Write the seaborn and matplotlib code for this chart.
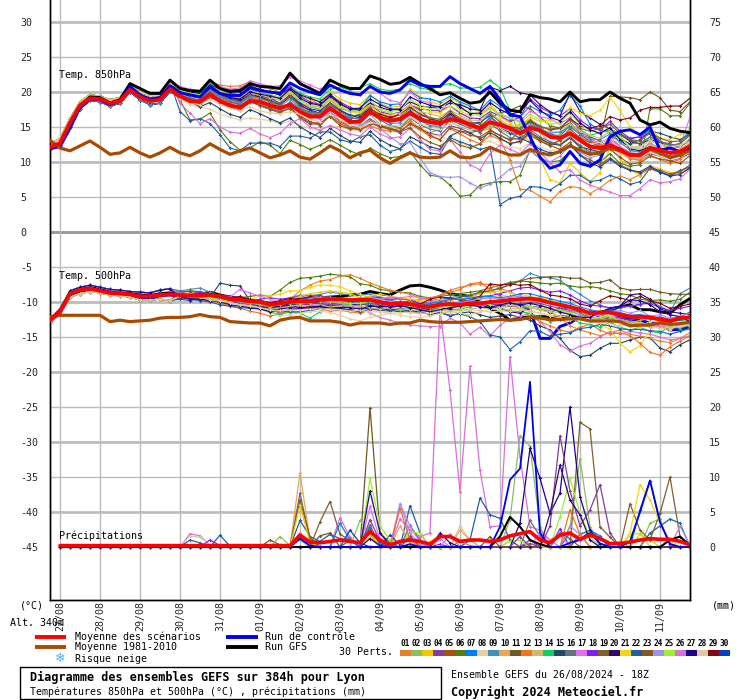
import numpy as np
import matplotlib
matplotlib.use("Agg")
import matplotlib.pyplot as plt
from matplotlib.lines import Line2D
from matplotlib.patches import Rectangle
import seaborn as sns

# ---------- values (one value every 6 h) ----------
DATES = ["27/08","28/08","29/08","30/08","31/08","01/09","02/09","03/09",
         "04/09","05/09","06/09","07/09","08/09","09/09","10/09","11/09"]
LEFT_TICKS = [30,25,20,15,10,5,0,-5,-10,-15,-20,-25,-30,-35,-40,-45]
RIGHT_TICKS = [75,70,65,60,55,50,45,40,35,30,25,20,15,10,5,0]
PERT_COLORS = ["#e8802a","#88c060","#f0c800","#8040a0","#a85010","#508010","#0080f0","#e8d0a0",
               "#4090b8","#e8a858","#705820","#f87020","#d0b870","#10d060","#204868","#687078",
               "#e070f0","#8020f0","#806030","#300870","#f0d810","#2060a0","#885820","#a090f0",
               "#a0f030","#d870d8","#200090","#e0c8a0","#800810","#0840c0"]

MEAN_850 = [12.1,12.7,15.6,18.1,19.1,19,18.4,18.7,20.3,19.3,18.7,18.9,20.4,19.4,18.7,18.6,19.7,18.7,18.1,17.8,
            18.7,18.6,18.1,17.7,18.2,17.2,16.5,16.5,17.7,16.7,15.7,15.8,17.2,16.3,15.9,16.1,17,16.1,15.7,15.5,
            16.1,15.9,15.3,14.8,15.7,15.3,14.8,14.1,14.9,14.5,13.6,13.4,14.1,13.1,12.2,12,12.4,11.8,11,11,
            12,11.7,11.3,11.5,12.3]
CLIM_850 = [13.1,12,11.6,12.3,13,12.1,11.1,11.3,12.1,11.3,10.7,11.3,12.1,11.3,10.9,11.6,12.6,11.8,11.1,11.6,
            12,11.3,10.6,11,11.6,10.7,10.4,11.3,12.3,11.6,10.6,11.3,11.7,10.6,9.8,10.6,11.3,10.7,10.6,10.7,
            11.6,10.7,10.6,11,12.1,11.5,11,11,11.8,11.3,11,11.5,12.3,11.7,11.1,11.3,12,11.6,11,11,
            11.8,11.3,10.6,11,11.6]
GFS_850 = [12.1,12.4,15.2,18,19.3,19.2,18.4,18.9,21.2,20.5,19.8,19.8,21.7,20.5,20.2,20.1,21.7,20.5,20.1,20.2,
           21.2,20.8,20.7,20.5,22.7,21.2,20.5,19.8,21.7,21,20.5,20.5,22.3,21.8,21.1,21.3,22.1,21.2,20.5,19.6,
           19.9,19.1,18.4,18.6,20,18.4,17.4,17.2,19.6,19.2,19,18.6,20,18.6,18.9,18.9,20,19.1,18.4,16,
           15.3,15.7,14.8,14.4,14.2]
CTRL_850 = [11.9,12.2,14.8,17.8,19,18.9,18.2,18.7,20.8,19.6,19,19.2,20.9,19.9,19.6,19.3,20.8,19.8,19.5,19.5,
            20.6,20.2,20,19.8,21.3,20.5,20,19.6,21,20.3,19.8,19.6,20.8,20,19.8,20.3,21.7,21,20.8,20.8,
            22.2,21.2,20.5,19.8,20.8,18.9,16.7,16.5,13.6,10.7,9.1,9.6,11.5,9.8,9.4,10.3,13.6,14.4,14.6,13.9,
            15,11.7,12,11.5,12]
EARLY_850_HI = [12.6,13.3,16.2,18.6,19.6,19.4,18.9,19.2,21,20,19.5,19.5,21.4]
EARLY_850_LO = [11.8,12.3,15,17.6,18.8,18.6,18,18.4,20,18.9,18.2,18.4,20.1]

# members: i = 13..64
T850 = {
 1: [20.5,20.1,20, 21.5,21,20.8,20.9, 21.5,20.7,20.5,20, 20.8,19.5,19,18.2, 19.2,18.2,17.6,17.5, 18.4,17,16,16, 17.3,16,15.2,15.4, 16.8,15.8,15,14.4, 14.8,13.2,10.3,6.1, 6,5.1,4.3,5.8, 6.5,6.3,5.5,6.3, 7.4,8,7.5,8.2, 9,8.6,8.1,8.4, 9],
 2: [19.2,18.6,18.5, 19.6,18.8,18,17.7, 18.9,18.5,18,17.6, 18.4,17,16.2,16.6, 17.8,16.6,15.6,15.5, 16.8,15.4,14.6,14.8, 16,14.8,14.2,14.6, 15.8,15,14.6,14.3, 15.2,14.6,14,15.5, 16,14.2,12.8,12.4, 13.5,12,11.5,11.6, 12.8,11.2,10.6,10.3, 11.5,11,10.6,10.9, 12.6],
 3: [20,19.6,19.4, 20.9,20,19.5,19.6, 20.9,20.3,20,19.8, 20.6,19.5,19,18.6, 20,19,18.4,18.2, 19.6,18.4,17.8,18, 20.5,19.3,18.6,18.2, 19.2,18.4,17.6,17.2, 18.3,16.6,15.5,14, 13,10.5,7.5,7, 9.8,8.5,7.2,8.5, 12,10.5,9,8, 9.5,9,8.5,8.6, 9.2],
 4: [19.7,19,18.9, 20,19.2,18.5,18.3, 19.2,18.7,18.1,17.5, 17.9,16.3,15.4,15.5, 16.9,15.8,15,15.1, 16.2,15.2,14.6,14.2, 15.6,14.5,14.1,13.8, 15.2,14.8,14.2,14.5, 15.7,14.9,14.2,14, 15.3,14.8,14,13.7, 15.2,13.9,13,12.6, 13.6,12.2,11,10.6, 11.2,10.8,10.1,10.5, 11.2],
 6: [18.9,16,16.1, 17,14.6,12.9,11.7, 12,12.9,12.4,11.2, 13.1,12.5,11.8,12.4, 13.2,12.4,11.6,11, 12,11.2,10.6,10.8, 11.5,9.6,8.1,7.9, 6.7,5.1,5.3,6.7, 7,7.2,7.2,8.1, 11.7,10.5,10,10.2, 11.5,10,9.5,10, 11.2,9.8,9.4,9.6, 17.6,17.6,16.6,16.6, 18.4],
 7: [20.2,19.8,19.5, 20.8,19.9,19.4,19.4, 20.4,19.8,19.6,19, 20.2,18.4,17.9,17.5, 19,17.7,17.2,17.6, 19.5,18.6,18.2,18.3, 20.1,19.2,19,18.6, 19.4,18.6,18,17.4, 18.9,18,17,16.4, 18,17.2,16.7,17.4, 19.5,18,15.4,14.6, 14.2,14,13.3,13.6, 14.6,13,12.2,12.7, 14],
 8: [19,18.2,17.8, 17.6,16.8,16.4,16, 16.3,16.1,15.9,15.5, 15.8,15.2,14.8,14.4, 15.2,15,14.6,14.4, 15.1,14.8,14.4,14.6, 15.3,14.4,13.9,13.7, 13.2,12.8,12.2,12.6, 13,12.3,12.2,11.9, 12.7,12.2,11.6,11.8, 12.5,11.5,11,11.4, 12,11.2,10.5,10.6, 11.4,10.8,10,10.4, 11],
 10: [20.4,19.9,19.5, 21,20.1,19.4,19.2, 20,19.4,19,18.8, 19.9,18.5,17.9,17.6, 18.9,17.5,16.6,16.4, 17.6,16.8,16.4,16.2, 17.5,16.6,16.4,16, 16.9,16.4,15.8,15.3, 16.2,15.5,14.6,14, 15,14.3,13.8,13.4, 14.5,13.2,12.4,11.8, 12.6,11.4,10.4,10.6, 12.2,11.8,11.4,11.6, 13],
 11: [19.8,19.4,19.2, 20.4,19.5,19,18.7, 19.5,19.3,18.6,18.2, 19.6,18.2,17.3,16.6, 17.9,16.8,16.2,16.3, 18,17.2,16.2,16.8, 18.2,17.4,16.2,15.4, 16.4,15.8,15.6,15, 16.3,17,17.4,18, 17.6,16.4,15.2,14.8, 15.6,14.2,13.6,13, 19.4,19.3,19.2,18.9, 20,19.2,17.4,17.2, 18.6],
 12: [19.4,19,18.8, 20,19,18.4,18.6, 19.3,18.8,18.3,17.6, 18.3,17.4,16.7,16.2, 17.3,15.9,15.2,14.6, 15.2,14.6,14.4,14.8, 15.8,14.7,13.6,13.2, 14.8,14,13.2,12.6, 13.8,13.2,12.7,12.8, 14,13.2,12.6,13, 14.2,13.6,12.9,12.4, 13,11.6,10.5,10.2, 11,10.4,9.8,10.4, 12],
 14: [20.6,20.2,20, 21.2,20.5,20.3,20.4, 21,20.2,19.9,19.8, 20.9,19.8,19.3,19, 20.4,20.7,20.2,20.6, 21.2,20.4,20.2,20.4, 21.2,20.6,20.3,20.9, 21.2,20.6,20.5,20.7, 21.7,20.6,17.4,13.6, 15.2,14.6,13.6,13.9, 15.4,14.6,13.8,14.2, 14.6,13.4,12.6,12.7, 13.6,12.8,12.4,12.4, 14.8],
 15: [19.3,18.6,17.9, 18.5,17.6,16.8,16.4, 17.5,16.9,16.2,15.6, 16.3,15,14.2,13.5, 14.8,13.8,13,12.8, 14.4,13.2,12.4,11.9, 13.6,12.9,12.2,11.8, 13.7,14.4,14.2,13.3, 14.2,13.4,12.6,13, 14.2,13.4,12.6,12.4, 13.4,12.2,11.8,11.4, 13.6,13.2,12.6,13.2, 14.4,14.1,13.6,13.2, 14],
 17: [20.8,20.4,20.2, 21.4,20.8,20.4,20.6, 21.6,21.2,20.8,20.9, 22.1,21.6,21,20.4, 20.9,20.2,20,19.6, 20.8,19.8,18.8,18.5, 20,18.8,18.4,17.2, 18.6,17.8,17,16.8, 17.8,16.8,16.2,15.8, 17.3,16.5,16.2,15.4, 16.4,14.6,13.2,12.8, 13.2,12.2,11.4,11.5, 12.6,12,11.8,12.3, 16.4],
 18: [20.3,19.9,19.7, 21,20.3,19.8,19.6, 20.7,20.4,19.9,19.7, 20.7,19.4,18.6,18.2, 19.6,18.6,17.8,17.4, 18,17.2,16.8,17.1, 18.2,17.6,17.4,17.3, 18,17,16.3,16.2, 17.2,16.6,15.8,16.4, 19,17.8,17.1,16.6, 17.6,16,15,14.6, 15.8,14.4,13.4,13.6, 14,12.9,12.6,12.2, 13.2],
 20: [20.4,20,19.8, 21,20.4,20,20, 20.8,20.4,20,19.6, 20.5,19.6,19.1,18.6, 19.7,18.4,17.5,17.4, 18.4,17.8,17.4,17.6, 18.6,18,17.8,17.9, 18.4,18.2,17.6,17.4, 20.7,20.2,20.8,19.9, 19.6,18.2,17.2,16.6, 19.8,17.2,16.3,15.4, 14.8,13.9,13,12.6, 13.2,12.8,12,12.2, 13.1],
 21: [20.2,19.8,19.6, 20.6,20,19.4,19.2, 20.2,19.8,19.4,19, 20,18.9,18,17.8, 19,17.8,17.2,16.9, 18,17,16.6,17, 18.2,17.8,17.2,17, 18,17.3,16.6,16.8, 18,16.4,15.6,15.2, 16.4,15.8,16,15.5, 17.8,17,16.6,17.4, 19.2,17.4,15,14, 14.8,13.4,13.2,14, 14.5],
 22: [17.2,15.9,16.2, 15.5,13.9,12,11.6, 12.7,12.7,12.7,12.2, 13.7,13.7,13.4,14.3, 14.3,13.2,12.8,13.6, 13.9,12.4,11.5,11.9, 13,12.1,11.3,11.1, 13.5,12.9,12.4,11.8, 12.2,3.9,4.8,5.1, 6.5,6.4,6,6.9, 8.1,8.1,7.2,7.4, 8.1,7.6,6.8,7.2, 9.1,8.5,8,8.8, 9.3],
 24: [19.6,19.2,18.6, 19.8,19.2,18.8,18.4, 19,18.4,17.9,17.4, 18,17,16.5,16.2, 17,16.4,15.6,15.2, 16,14.8,13.6,12.6, 12.8,10.6,8.5,7.9, 7.8,7.9,7,6.3, 6.8,7.8,9,9.4, 11.6,10.5,10,10.8, 12.4,11.4,10.6,11, 12.6,11.8,11.4,11.6, 12.8,11.8,11.2,11.6, 12.4],
 26: [18.4,17,15.5, 16.2,15,14.3,14.1, 14.8,14,13.5,14.1, 15.5,16.2,15,14.6, 15.2,14.6,14,13.7, 15,14,13.4,13.6, 14.8,13.2,11.8,11.6, 13.2,11.4,9.6,8.9, 11.2,12.4,11.8,11.2, 12.6,11.4,9.9,8.6, 8.9,7.4,6.7,6.2, 5.7,5.2,5.2,6.2, 7.5,7,7.2,7.6, 9],
 29: [19.9,19.4,19.2, 20.6,19.7,19,18.8, 19.7,19.3,18.8,18.2, 19.3,18.1,17.4,17, 18.2,17.3,16.7,16.6, 17.6,16.8,16.4,16.8, 17.9,16.8,16.2,15.8, 17,16,15.4,15, 15.8,15,14.8,14.5, 15.8,15,14.6,14.8, 16.2,15.2,14.8,15.2, 16.5,16,16.3,17.4, 17.8,17.8,18,18, 19.1],
 5: [19.4,18.7,18.3, 19.2,18.6,18.2,17.8, 18.7,18,17.5,17, 17.8,16.4,15.6,15.6, 16.5,15.2,14.7,14.9, 15.8,15,14.7,14.4, 15.4,14.9,13.8,13.2, 14.9,14.4,13.8,13.6, 14.5,13.8,13.2,13.4, 14.4,13,12.4,11.8, 12.8,11,10.3,9.6, 10.6,9.6,8.9,8.4, 9.2,8.8,8.3,8.6, 9.6],
 30: [20,19.5,19.3, 20.6,19.8,19.2,18.9, 20.1,19.5,19.1,18.4, 19.6,18.4,17.6,17.3, 18.5,17.4,16.7,16.3, 17.4,16.3,15.8,16, 17.3,16.4,15.7,15.3, 16.8,15.8,15.5,15.7, 16.6,15.2,14.2,13.4, 12.8,11.8,11.3,11.5, 12.4,11,9.9,9.3, 10.4,9.4,8.8,8.6, 9.4,8.6,8,8.2, 9.2],
 13: [20.1,19.7,19.5, 20.7,19.9,19.5,19.1, 19.9,19.6,19.2,18.9, 19.8,18.8,18.1,17.9, 19.1,18,17.3,17.1, 18.2,17.4,17,16.9, 18.1,17.2,16.9,16.5, 17.4,16.7,16,15.9, 17,16,15.2,15, 16.1,15.2,14.4,14.2, 15.5,14.4,13.8,13.4, 14.4,13,12.1,12, 13.2,12.4,12,12.2, 13.4],
 16: [19.6,19.1,18.9, 20.2,19.3,18.7,18.1, 18.9,18.1,17.6,17.2, 18.6,17.6,16.9,16.7, 17.6,16.6,15.9,15.8, 17,16,15.2,14.9, 16.3,15.3,14.7,14.4, 16,15.4,14.8,14.2, 15.6,14.4,13.5,13.2, 14.6,13.6,12.9,12.5, 13.6,12.4,11.4,11, 13.4,13.8,13.2,12.5, 13.6,13,12.4,12.6, 13.8],
 19: [20,19.6,19.3, 20.4,19.6,19.1,18.5, 19.6,19,18.7,18.3, 19.5,17.9,17,17, 18.4,17.2,16.5,16.8, 17.8,16.6,16,16.4, 17.7,16.9,16.3,16.1, 17.3,16.2,15.6,15.5, 16.9,15.7,15,14.8, 16,15.1,14.7,14.9, 16,14.8,14.4,14.8, 15.4,14.1,13.2,13, 14.2,13.4,12.9,13, 14.2],
 23: [19.1,18.8,18.5, 19.4,18.5,17.8,17.4, 18.6,18.2,17.7,17.2, 17.6,16.6,15.8,15.2, 16.6,15.5,14.8,14.6, 15.4,15.2,14.9,14.3, 14.9,13.6,12.8,12.3, 13.2,12.4,12,12.6, 14.6,13.8,13.1,14.4, 13.8,13,12.3,13.2, 14.8,13.4,12.8,12.2, 11.8,10.7,9.7,9.9, 10.8,10.4,10.2,9.8, 10.9],
 25: [20.3,19.8,19.6, 20.9,20.2,19.6,19.3, 20.5,20.1,19.7,19.3, 20.2,18.9,18.3,17.8, 19.2,18.1,17.5,17.2, 18.8,17.6,17.2,17.4, 18.9,18.2,17.6,17.6, 18.8,17.5,17.2,16.6, 17.6,16.9,16.4,15.6, 16.8,16,15.4,15.6, 17,15.4,14.4,14.2, 15,13.6,12.2,11.8, 12.4,11.8,11.4,11.7, 12.9],
 27: [20,19.4,19.2, 20.5,19.7,19.2,19, 20,19.7,19.4,19.1, 20.4,19.1,18.4,18.1, 19.4,18.3,17.6,17.7, 19,18.2,17.6,17.5, 19.3,18.6,18.1,17.9, 18.8,17.9,16.9,17, 18.5,17.5,16.8,17.2, 18.8,17.4,16.4,15.9, 17.2,15.6,14.6,14.1, 14.9,13.2,11.9,11.6, 12.2,11.4,10.8,11, 12.1],
 28: [19.1,18.4,18.2, 19,18.2,17.7,17.3, 17.9,17.3,17,16.9, 17.2,16.8,16.1,15.7, 16.8,16.1,15.3,15, 15.7,15.4,15.1,15.3, 16.5,15.5,15,14.7, 15.5,15.2,14.6,14.9, 15.9,15,14.4,14.1, 15,14.7,13.7,13.5, 14,13,12.6,12.8, 13.4,12.6,12.2,12.2, 13,12.6,12.2,12.4, 13],
 9: [19.8,19.5,19.1, 20.3,19.4,18.9,18.4, 19.4,19.1,18.5,18, 19,17.7,17.1,16.9, 18.1,16.9,16.4,16.1, 17.2,16.2,15.5,15.6, 16.8,15.9,15.2,15, 16.5,15.6,15.1,14.8, 16.4,15.3,14.6,14.6, 15.6,14.8,14.1,14.3, 15,14,13.3,13.2, 14,12.8,11.7,11.4, 12,11.2,10.9,11.2, 12.2],
}

MEAN_500 = [-12.6,-11.4,-8.8,-8.3,-8.05,-8.4,-8.7,-8.8,-8.9,-9.2,-9.2,-9,-8.9,-9,-9.1,-9.1,-9,-9.2,-9.6,-9.7,
            -9.9,-10,-10.4,-10.2,-10,-9.9,-9.9,-9.7,-9.6,-9.6,-9.7,-9.7,-9.7,-10,-10.3,-10.2,-10.3,-10.6,-10.7,-10.4,
            -10.3,-10.4,-10.2,-10.2,-10,-9.9,-9.7,-9.6,-9.5,-9.7,-10.1,-10.4,-10.7,-11.1,-11.6,-11.5,-11.5,-11.8,-12.1,-12.1,
            -12.2,-12.5,-12.7,-12.3,-12.2]
CLIM_500 = [-12.1,-11.9,-11.9,-11.9,-11.9,-11.9,-12.8,-12.6,-12.8,-12.7,-12.6,-12.3,-12.2,-12.2,-12.1,-11.8,-12.1,-12.2,-12.8,-12.9,
            -13,-13,-13.4,-12.6,-12.3,-12.2,-12.7,-12.7,-12.7,-12.9,-13.3,-13,-13,-13,-13.2,-13,-13,-12.6,-12.8,-12.9,
            -12.9,-12.9,-12.8,-12.7,-12.6,-12.5,-12.6,-12.5,-12.2,-12.3,-12.5,-12.5,-12.4,-12.4,-12.7,-12.7,-12.7,-12.8,-13.4,-13.3,
            -13.3,-13,-13.2,-13.1,-12.9]
GFS_500 = [-12.5,-11.2,-8.7,-8.2,-7.9,-8.2,-8.6,-8.7,-8.8,-9,-9.1,-8.8,-8.7,-8.8,-9,-8.9,-8.6,-9,-9.3,-9.5,
           -9.8,-9.9,-10.2,-10,-9.8,-9.6,-9.6,-9.4,-9.3,-9.2,-9,-8.9,-8.5,-8.8,-9,-8.3,-7.7,-7.6,-7.9,-8.3,
           -8.8,-9,-9.2,-10,-10.9,-11.6,-12.6,-12.3,-12.1,-12.1,-12.1,-12.1,-12.2,-12,-11.9,-11.6,-11.1,-10.7,-10.4,-11.1,
           -11.1,-11.4,-11.6,-10.4,-9.5]
CTRL_500 = [-12.8,-11.6,-9.1,-8.6,-8.2,-8.5,-8.8,-8.9,-9,-9.4,-9.5,-9.1,-9,-9.2,-9.4,-9.3,-9.1,-9.3,-9.8,-9.8,
            -10.1,-10.2,-10.6,-10.5,-10.1,-10,-10.2,-9.9,-9.8,-9.8,-10,-9.9,-9.8,-10.2,-10.5,-10.4,-10.3,-10.7,-10.9,-10.3,
            -10.2,-10.4,-10.3,-10.1,-10.8,-10.6,-10.5,-10.4,-11.1,-15.2,-15.2,-13.5,-13,-12.1,-11.6,-12,-12.4,-12.2,-12.5,-12.6,
            -13,-13.2,-14,-13.9,-13.5]
EARLY_500_HI = [-12.4,-11,-8.4,-7.9,-7.6,-7.9,-8.2,-8.3,-8.5,-8.6,-8.7,-8.3,-8.1]
EARLY_500_LO = [-12.9,-11.7,-9.3,-8.8,-8.5,-8.7,-9,-9.1,-9.3,-9.7,-9.7,-9.6,-9.8]

T500 = {
 9: [-8.4,-8.2,-8, -8.6,-9.2,-9.4,-9.7, -10,-9.7,-10.2,-9.9, -9.4,-9,-9.1,-8.9, -8.6,-8.8,-9,-9, -8.9,-9.3,-9.7,-9.5, -9.8,-10.1,-9.8,-9.6, -9.4,-9.1,-9.2,-8.7, -8.4,-8.1,-7.4,-7, -5.9,-6.4,-6.5,-6.9, -8,-8.9,-9.8,-10.4, -11,-10.8,-10.6,-10.4, -9.9,-10.6,-11.4,-8.8, -8],
 15: [-9.6,-9.8,-9.5, -9.4,-7.3,-7.6,-7.7, -9.8,-10.4,-11.2,-10.9, -10.4,-10.3,-10.4,-10.9, -10.6,-10.9,-11.1,-10.8, -11,-11,-11.2,-11.4, -11.2,-11.4,-11.8,-11.5, -12,-11.6,-11.4,-11.8, -12.2,-12,-11.8,-12.2, -12.6,-13.4,-14,-15.2, -16.9,-17.8,-17.6,-16.6, -15.9,-15.9,-15.4,-15, -15.1,-16.6,-17.1,-16.1, -15.4],
 6: [-8.6,-8.5,-8.7, -9,-9.4,-9.5,-9.4, -9.2,-9,-9.2,-8.3, -7.2,-6.6,-6.5,-6.3, -6,-6.2,-6.4,-7.4, -7.6,-8.2,-8.4,-8.6, -8.7,-9.2,-9.4,-9.2, -9,-8.8,-8.6,-8.4, -8,-7.6,-7.2,-7, -7.1,-7.3,-7.4,-7.3, -7.7,-7.9,-7.8,-8, -8.4,-8.8,-9,-9.6, -9.8,-9.7,-9.9,-9.6, -8.6],
 1: [-8.9,-8.8,-8.9, -9.1,-9.3,-9.6,-9.8, -10,-10.3,-10.6,-10, -9.6,-8.4,-7.6,-7, -6.8,-6.3,-6.1,-6.6, -7.3,-7.8,-8.3,-8.6, -8.9,-9.4,-9.5,-9, -8.3,-7.9,-7.6,-7.4, -7.5,-8,-8.6,-9.2, -9.8,-10.2,-11.4,-12.2, -13.4,-14,-14.4,-14.8, -14.4,-14,-14.6,-14.9, -15.2,-15.6,-15.8,-15.2, -14.4],
 11: [-8.6,-8.4,-8.5, -8.8,-9,-9.2,-9.6, -10,-10.4,-11,-11.6, -11.2,-10.8,-10.6,-10.4, -10.2,-10.3,-9.9,-9.6, -9.4,-9.5,-9.8,-10, -9.9,-10.3,-10.4,-10.2, -9.7,-9.3,-9,-8.6, -8.4,-8,-7.6,-7, -6.6,-6.5,-6.4,-6.4, -6.6,-6.6,-7.3,-7.2, -6.8,-8,-8.3,-8.2, -8.2,-8.6,-8.8,-8.9, -8.9],
 26: [-9.1,-9.4,-9.3, -9.4,-9.7,-9.9,-10, -10.3,-10.8,-11.2,-11.4, -11,-10.9,-10.4,-10.2, -10.3,-10.6,-10.6,-10.8, -11.6,-12.2,-12.6,-13, -13.3,-13.4,-13.5,-13.5, -12.3,-13,-14.6,-13.6, -14.9,-13.3,-12.4,-12, -11.6,-12.8,-14.2,-16.1, -17,-16.3,-15.9,-15, -14.2,-14.6,-14.2,-14.4, -14.6,-15,-15.4,-15.2, -14.8],
 21: [-9,-9.1,-9, -9.2,-9.6,-9.7,-9.8, -9.6,-9.2,-9.1,-8.9, -8.4,-8.4,-7.9,-7.6, -7.6,-7.8,-8.4,-8.9, -9.4,-9.6,-9.2,-9.4, -9.8,-10,-9.9,-10, -10.2,-10,-9.8,-9.4, -9.5,-9,-9.2,-8.9, -9.2,-9.4,-9.8,-10.2, -11,-11.2,-12,-13.1, -13.9,-15.9,-17.1,-16.3, -14,-13,-12.8,-12.4, -13.6],
 12: [-9.3,-9.4,-9.6, -9.8,-10.2,-10.6,-10.9, -11.3,-11.6,-12,-11.7, -11.2,-11,-10.8,-11, -11.3,-11.2,-11.4,-11.6, -11.2,-10.8,-10.6,-10.4, -10,-9.6,-9.4,-9.1, -8.6,-8.2,-7.4,-7.2, -8.2,-9.2,-10.2,-11, -12,-12.8,-13.4,-14, -14.3,-13.6,-13.2,-14, -14.6,-14.4,-14.8,-15.9, -17.2,-17.6,-16.4,-15.6, -14.8],
 14: [-9.2,-9.2,-9.4, -9.6,-10,-10.2,-10.1, -9.9,-10.6,-11.4,-11.8, -11.4,-11.6,-12.3,-11.4, -10.4,-10.6,-10.2,-10, -10.4,-10.8,-11,-11.2, -10.9,-11,-11.2,-10.9, -11.1,-11,-10.7,-10.4, -10.6,-10.9,-11.2,-11.4, -11.6,-12.2,-12.8,-12.6, -12.2,-13,-13.2,-13.6, -12.9,-13.6,-14,-13.6, -14.2,-14.4,-13.4,-13.8, -13.2],
 18: [-8.8,-8.9,-8.6, -8.9,-9.2,-9.2,-9.6, -9.8,-9.6,-9.4,-9.6, -9.4,-9.2,-9.4,-9.8, -9.7,-9.9,-10,-9.6, -9.2,-9.4,-9.6,-9.5, -9.7,-10.2,-10.1,-9.8, -9.4,-9.7,-9.4,-9.2, -9.1,-8.8,-8.4,-8, -7.9,-8.3,-8.6,-8.4, -9,-9.8,-10.4,-10.6, -10.8,-10.6,-10.6,-10.3, -10.2,-10.8,-11.2,-10.9, -10.6],
 20: [-9.2,-9.6,-9.7, -9.5,-9.9,-10.2,-9.8, -10.2,-10.6,-10.9,-10.6, -10.5,-10.8,-10.9,-10.6, -10.5,-10.7,-10.4,-10.3, -10.5,-10.8,-11.2,-10.9, -11.2,-11.4,-11,-10.8, -11,-10.4,-10.2,-10, -10.6,-10.9,-11.4,-11.6, -10.6,-10.8,-11.6,-10.8, -11,-11.3,-11.7,-11.6, -11.5,-10.6,-9,-8.8, -9.6,-11,-11.4,-11.6, -11.8],
 3: [-8.9,-9.1,-8.8, -9.3,-9.4,-9.5,-9.8, -10,-10.3,-10.5,-10.2, -9.8,-9.2,-8.8,-8.6, -8.4,-8.6,-8.8,-9.4, -9.2,-8.8,-9.2,-9.4, -9.6,-9.8,-10,-9.6, -9.8,-9.5,-9.4,-8.8, -8.6,-8.4,-8.6,-9.2, -9.8,-9.2,-9.6,-10.2, -10.8,-11.4,-11.8,-11.2, -12.2,-12.5,-12.8,-13, -13.3,-13.6,-14,-13.2, -12.6],
 17: [-8.7,-8.8,-9, -9.2,-9.5,-9.3,-8.2, -8.7,-9.2,-9.6,-10, -10.2,-10.1,-9.8,-9.7, -9.8,-10,-9.7,-9.4, -9.8,-9.6,-9.3,-9.4, -9.2,-9.4,-9.8,-10, -10.4,-10.2,-10.6,-10.4, -10.2,-10.6,-10.3,-10.2, -10.6,-11,-11.2,-11, -11.4,-11.8,-12.2,-12.4, -12,-12.4,-12.9,-13.2, -13.6,-13.4,-13.8,-13.2, -12.8],
 22: [-9.4,-9.6,-9.8, -10,-10.4,-10.6,-10.8, -10.9,-11,-11.3,-11.2, -11.4,-11.4,-11.2,-11, -10.8,-11,-11.2,-11.4, -11,-11.2,-11.3,-11,-11.4, -11.6,-11.2,-11.5, -11.9,-11.7,-12.1,-12.8, -14.7,-15,-16.8,-15.7, -14.1,-14.2,-14.9,-14.6, -14.4,-13.8,-13.6,-13.2, -13.4,-13.8,-14,-13.9, -14.1,-14.2,-14.6,-14.2, -13.8],
 8: [-9.1,-9.2,-9.1, -9.4,-9.7,-10,-10.3, -10.6,-11,-11.6,-12, -11.8,-11.6,-11.4,-11.3, -11.5,-11.9,-12.4,-12.7, -12.2,-11.9,-11.6,-11.9, -12.1,-12.2,-12,-11.7, -11.3,-11.6,-11.8,-11.4, -11,-10.8,-10.6,-11, -11.4,-11.6,-12,-12.3, -12.6,-12.4,-12.9,-13, -13.2,-13.4,-13.2,-13.6, -13.4,-13.8,-13.6,-13.4, -13.2],
 29: [-8.8,-9,-8.8, -9,-9.1,-9.4,-9.2, -9.6,-10,-10.2,-9.8, -9.5,-9.6,-9.2,-9.1, -9.4,-9.6,-9.8,-9.9, -9.6,-9.9,-10,-10.1, -10.2,-10.3,-9.6,-9.3, -9.4,-9.7,-9.8,-9.2, -7.4,-7.6,-7.4,-7.6, -7.5,-8.3,-9,-9.2, -9.5,-10.3,-10.6,-9.8, -9.1,-9.4,-9.8,-9.2, -9.8,-10.2,-10.9,-10.6, -10.3],
 2: [-9,-9.2,-9.2, -9.3,-9.6,-9.8,-10.1, -10.2,-10.4,-10.7,-10.4, -10.1,-10,-9.9,-10, -9.9,-10.2,-10.3,-10.1, -10.3,-10.5,-10.6,-10.7, -10.6,-10.8,-10.7,-10.5, -10.3,-10.4,-10.2,-9.9, -10,-10.2,-10,-10, -10.2,-10.5,-10.9,-11.2, -11.4,-11.6,-12,-11.9, -12.4,-12.6,-13,-12.6, -12.4,-12.6,-13,-12.5, -12],
 4: [-9.1,-9,-9.2, -9.4,-9.8,-9.9,-10.2, -10.4,-10.7,-11,-10.8, -10.6,-10.5,-10.2,-10.2, -10.4,-10.4,-10.6,-10.4, -10.2,-10.4,-10.8,-10.6, -10.8,-10.9,-10.8,-10.2, -10.3,-10,-9.8,-10.1, -10.3,-10.4,-10.6,-10.2, -10.1,-10.2,-10.6,-10.9, -11.2,-11.4,-11.4,-11.8, -11.6,-12.2,-12.6,-12.2, -12.4,-12.1,-12.5,-12.2, -11.4],
 7: [-8.9,-9.1,-9.2, -9.2,-9.5,-9.8,-9.9, -9.9,-10.1,-10.3,-10.1, -10,-9.8,-9.7,-9.5, -9.6,-9.8,-9.9,-10, -10.1,-10,-10.1,-10.3, -10.4,-10.6,-10.2,-10, -9.6,-9.6,-9.5,-9.3, -9.2,-9.4,-9.2,-8.8, -8.8,-9.2,-9.5,-9.9, -10.2,-10.7,-11.1,-11.4, -11.1,-11.5,-11.9,-11.8, -12,-12.3,-12.8,-12.6, -12.6],
 13: [-9.2,-9.3,-9.4, -9.5,-9.8,-10.1,-10.4, -10.6,-10.9,-11,-10.9, -10.6,-10.4,-10.6,-10.4, -10.7,-10.6,-10.5,-10.6, -10.8,-11,-10.9,-11, -11.1,-11.3,-11.3,-11.2, -11.3,-11.2,-11,-10.8, -11,-11.2,-11,-10.9, -10.8,-11.2,-11.4,-11.5, -11.8,-12,-12.3,-12.2, -12.6,-12.8,-13.2,-13, -13.2,-13.1,-13.6,-13, -12.6],
 24: [-8.8,-9,-9, -9.1,-9.3,-9.7,-9.9, -9.9,-10.2,-10.4,-10.2, -10,-9.7,-9.5,-9.3, -9.3,-9.5,-9.6,-9.7, -9.4,-9.6,-9.9,-10.1, -10.1,-10.4,-10.6,-10.4, -10,-10.1,-9.8,-9.6, -9.4,-9.6,-9.3,-9.2, -9.4,-9.9,-10.2,-10.6, -11,-11.2,-11.5,-11.8, -11.4,-11.2,-11.6,-11.2, -12,-11.8,-12.3,-12, -11.6],
 25: [-9,-9,-9.1, -9.4,-9.7,-9.8,-9.7, -10.1,-10.1,-10.5,-10.3, -10.1,-10.2,-10.1,-9.8, -9.8,-9.9,-10.2,-10.2, -9.9,-10.2,-10.4,-10.4, -10.5,-10.7,-10.9,-10.8, -10.6,-10.8,-10.5,-10, -10.4,-10.8,-10.4,-10.6, -10.6,-10.9,-11.1,-11.2, -11.6,-12.1,-12.6,-12.1, -12,-12.8,-13.4,-13.4, -12.8,-12.7,-13.2,-12.9, -12.4],
 27: [-9.3,-9.5,-9.6, -9.8,-10,-10.4,-10.6, -10.8,-11,-11.4,-11, -10.8,-10.9,-10.7,-10.6, -10.9,-10.8,-10.8,-11, -10.6,-10.6,-10.7,-10.5, -10.8,-11.1,-11.4,-11.1, -10.8,-10.6,-10.4,-10.7, -10.8,-10.4,-10.1,-10.4, -10.2,-10.5,-10.9,-11.4, -11.8,-12.2,-12.2,-11.4, -10.9,-10.6,-9.7,-9.8, -10.4,-11.4,-11.8,-12.1, -12.8],
 28: [-9.2,-9.1,-9.3, -9.7,-9.9,-10.1,-10.4, -10.5,-10.8,-11.2,-11.2, -11.2,-11.1,-11,-11, -11,-11.1,-11.3,-11.2, -11.4,-11.4,-11.6,-11.5, -11.5,-11.6,-11.6,-11.3, -11.6,-11.4,-11.1,-11.2, -11.4,-11.3,-11.3,-11.1, -11.2,-11.6,-11.9,-12, -12.2,-12.3,-12.7,-12.6, -12.6,-13.1,-13.4,-13.2, -13.4,-13.2,-13.8,-13.4, -13.4],
}

PRECIP_MEAN = [0.2]*24 + [1.7,0.7,0.6,0.8,1,0.8,0.6,2.2,1,0.3,0.8,1,0.8,0.4,1.5,1.5,0.8,1,1,0.8,1,1.6,1.9,2.2,
               1,0.6,1.7,2,1.1,1.7,1.2,0.5,0.5,0.7,1,1.2,1.1,1.1,0.8,0.3]
# mm per member, keyed by 6-hour step (0 elsewhere)
PRECIP = {
 26: {14:1.9,15:1.6,16:.2,25:2,29:4.2,30:1.4,35:4,36:2.4,37:1.5,38:2,39:33.9,40:22.4,41:7.9,42:25.8,43:11,44:2.9,45:3,46:27.2,47:12.9,48:2.9,49:2.4,50:1},
 28: {14:1.6,15:1.4,16:.3,25:1.4,41:3,42:1,46:1},
 22: {14:1,15:.6,17:1.7,18:.1,25:3.8,26:1.5,27:.8,28:1.8,29:1.2,30:1,36:5.9,37:2,42:1,43:7,44:4.6,45:4.1,46:1,53:1.8,54:2.4,55:1.2,60:2,61:3,62:4,63:3.4,64:0},
 18: {16:1,17:.2,25:1.6,32:2.8,33:.5,39:.4,48:1,51:2.6},
 11: {22:1,23:.3,27:1.6,28:2,32:19.9,33:2,34:.6,36:1.6,48:.5},
 2: {23:1.5,24:.2,25:1,31:3.8,32:1.8,47:15.9,48:14.4,49:2.9,46:3.9,53:12.6,52:2.9,54:2.9,60:3.4,61:4},
 10: {25:10.6,26:1,35:3,36:.6,41:2.4,42:1,51:2,57:.8},
 16: {25:7.7,26:1,36:3.1,37:1,48:3.8,49:1.5,32:3.2},
 23: {25:6.7,26:1.4,44:1.5,51:2,52:1.2,30:1},
 3: {25:6,26:.6,32:2.4,38:.8,59:1.8,60:1},
 19: {27:3.6,28:6.5,29:1.8,30:1,32:1.4,53:17.8,54:16.9,55:2.9,56:1.4,58:6.2,59:2.4,60:1,61:4.8,62:10,63:1.5},
 7: {29:3.4,30:1,32:2.6,33:.4,52:2,53:1,54:2.4,55:1.6},
 30: {30:2.4,31:.6,34:1.7,35:.3,59:5.3,60:9.5,61:3.4,62:.5},
 17: {32:5.8,33:1,35:6.2,36:3,37:.6,39:1.2,49:2.1,50:1,51:1.8},
 25: {32:9.8,33:3,34:1,36:2.2,37:2,52:9.8,51:4.3,53:4.8,54:1.5,47:1,46:.8,58:1.6,59:2},
 27: {32:8,33:2,34:.2,47:3.4,48:14.1,49:9.8,50:4.8,51:7.7,52:20,53:7.2,54:2.4,55:.5},
 4: {32:3.9,33:.8,36:1.5,47:1.5,50:3,51:15.9,52:8,53:3,54:5.3,55:8.9,56:2},
 24: {35:6.1,36:2,37:.4,40:1.8,52:3,53:1.8,63:3,64:.3},
 12: {35:5.5,36:1,52:5.3,53:1.8,41:.8,42:.2},
 21: {58:2,59:8.9,60:6.7,61:3.4,62:1,32:1.4},
 20: {39:2,40:.6,50:4.8,51:11.7,52:6.7,53:4.6,54:1,32:1.2,33:.2},
}
PRECIP_CTRL = {25:1.2,26:.2,36:.4,45:2.9,46:9.6,47:11.2,48:23.6,49:2,52:.6,53:1,54:2,55:.5,58:.8,59:5,60:9.5,61:3.6,62:.4}
PRECIP_GFS = {45:1.5,46:4.3,47:2.9,48:1,49:.4,62:1,63:1.5,64:.2}

W, H = 740, 700
sns.set_style("white")
plt.rcParams["font.family"] = ["DejaVu Sans Mono", "DejaVu Sans"]
fig = plt.figure(figsize=(W/100, H/100), dpi=100, facecolor="white")

X0, X1, Y0, Y1 = 50, 690, 0, 600
ax_mm = fig.add_axes([X0/W, 1-Y1/H, (X1-X0)/W, (Y1-Y0)/H])
ax_t = ax_mm.twinx()
ax_t.set_zorder(2); ax_mm.set_zorder(1); ax_t.patch.set_visible(False)
ax_mm.set_xlim(0, 64); ax_t.set_xlim(0, 64)
ax_t.set_ylim((232-Y1)/7, (232-Y0)/7)
ax_mm.set_ylim((547-Y1)/7, (547-Y0)/7)

GRID = "#bcbcbc"
ax_mm.set_axisbelow(True)
for m in RIGHT_TICKS[:-1]:
    thick = m % 10 == 5
    ax_mm.axhline(m, color=GRID, lw=2.0 if thick else 1.0, zorder=0)
ax_mm.axhline(45, color="#9a9a9a", lw=2.0, zorder=0)
TICK_STEPS = np.arange(1, 64, 4)
for s in TICK_STEPS:
    ax_mm.axvline(s, color=GRID, lw=1.0, zorder=0)

def draw(ax, x, y, color, lw, marker=True, z=2):
    sns.lineplot(x=x, y=y, ax=ax, color=color, linewidth=lw, estimator=None, sort=False, legend=False,
                 errorbar=None, marker="P" if marker else None, markersize=2.4 if marker else 0,
                 markeredgewidth=0, zorder=z)

def draw_members(data, hi, lo):
    for k, (m, tail) in enumerate(data.items()):
        early = hi if k % 2 == 0 else lo
        y = np.array(early + tail, dtype=float)
        draw(ax_t, np.arange(len(y)), y, PERT_COLORS[m-1], 0.8)

# precipitation members
for m, vals in PRECIP.items():
    y = np.zeros(65)
    for k, v in vals.items():
        y[k] = v
    draw(ax_mm, np.arange(1, 65), y[1:], PERT_COLORS[m-1], 0.9)
y_g = np.zeros(65); y_c = np.zeros(65)
for k, v in PRECIP_GFS.items(): y_g[k] = v
for k, v in PRECIP_CTRL.items(): y_c[k] = v
draw(ax_mm, np.arange(1, 65), y_g[1:], "black", 1.5, marker=False, z=3)
draw(ax_mm, np.arange(1, 65), y_c[1:], "#0000f0", 1.3, marker=False, z=3)
draw(ax_mm, np.arange(1, 65), np.array(PRECIP_MEAN), "#ff0000", 2.6, marker=False, z=4)

# temperature panels
draw_members(T850, EARLY_850_HI, EARLY_850_LO)
draw_members(T500, EARLY_500_HI, EARLY_500_LO)
xs = np.arange(65)
draw(ax_t, xs, np.array(GFS_850), "black", 2.1, marker=False, z=3)
draw(ax_t, xs, np.array(CTRL_850), "#0000f0", 2.1, marker=False, z=3)
draw(ax_t, xs, np.array(CLIM_850), "#a84b00", 2.3, marker=False, z=4)
draw(ax_t, xs, np.array(MEAN_850), "#ff0000", 2.8, marker=False, z=5)
draw(ax_t, xs, np.array(GFS_500), "black", 2.1, marker=False, z=1.8)
draw(ax_t, xs, np.array(CTRL_500), "#0000f0", 2.1, marker=False, z=1.9)
draw(ax_t, xs, np.array(CLIM_500), "#a84b00", 2.3, marker=False, z=4)
draw(ax_t, xs, np.array(MEAN_500), "#ff0000", 2.8, marker=False, z=5)

FS = 7.2
ax_t.yaxis.tick_left()
ax_t.set_yticks(LEFT_TICKS)
ax_t.set_yticklabels([str(v) for v in LEFT_TICKS], fontsize=FS, ha="left")
ax_t.tick_params(axis="y", length=0, pad=21.6, labelleft=True, labelright=False)
ax_mm.yaxis.tick_right()
ax_mm.set_yticks(RIGHT_TICKS)
ax_mm.set_yticklabels([str(v) for v in RIGHT_TICKS], fontsize=FS, ha="left")
ax_mm.tick_params(axis="y", length=0, pad=13.7, labelleft=False, labelright=True)
ax_mm.set_xticks(TICK_STEPS)
ax_mm.set_xticklabels(DATES, rotation=90, fontsize=FS, va="top", ha="center")
ax_mm.tick_params(axis="x", length=0, pad=1.0, labelbottom=True)
ax_t.set_xlabel(""); ax_t.set_ylabel(""); ax_mm.set_xlabel(""); ax_mm.set_ylabel("")
for a in (ax_t, ax_mm):
    for side in ("left", "right", "bottom"):
        a.spines[side].set_visible(True)
        a.spines[side].set_color("black")
        a.spines[side].set_linewidth(1.0)
    a.spines["top"].set_visible(False)

def label(x, y, s, **kw):
    kw.setdefault("fontsize", FS)
    kw.setdefault("va", "center")
    fig.text(x/W, 1-y/H, s, color="black", **kw)

def legend_line(x0, x1, y, color):
    fig.add_artist(Line2D([x0/W, x1/W], [1-y/H, 1-y/H], color=color, lw=2.8, solid_capstyle="butt"))

label(59, 75, "Temp. 850hPa")
label(59, 276, "Temp. 500hPa")
label(59, 536, "Précipitations")
label(20, 606, "(°C)")
label(712, 606, "(mm)")
label(10, 623, "Alt. 340m")
legend_line(35, 66, 637, "#ff0000")
legend_line(35, 66, 647, "#a84b00")
legend_line(226, 258, 637, "#0000f0")
legend_line(226, 258, 647, "black")
label(75, 637, "Moyenne des scénarios")
label(75, 647, "Moyenne 1981-2010")
label(75, 659, "Risque neige")
fig.text(60/W, 1-658/H, "❄", color="#55aaee", fontsize=9, ha="center", va="center", family="DejaVu Sans")
label(265, 637, "Run de contrôle")
label(265, 647, "Run GFS")
label(339, 652, "30 Perts.")
for k, c in enumerate(PERT_COLORS):
    fig.add_artist(Rectangle(((400+11*k)/W, 1-656/H), 11/W, 6/H, facecolor=c, edgecolor="none",
                             transform=fig.transFigure))
    label(405.5+11*k, 644, f"{k+1:02d}", fontsize=5.6, ha="center", fontweight="bold")
fig.add_artist(Rectangle((20/W, 1-699/H), 421/W, 32/H, facecolor="white", edgecolor="black", lw=1.0,
                         transform=fig.transFigure))
label(30, 677, "Diagramme des ensembles GEFS sur 384h pour Lyon", fontsize=8.5, fontweight="bold")
label(30, 692, "Températures 850hPa et 500hPa (°C) , précipitations (mm)", fontsize=7.15)
label(451, 675, "Ensemble GEFS du 26/08/2024 - 18Z", fontsize=7.15)
label(451, 692, "Copyright 2024 Meteociel.fr", fontsize=8.5, fontweight="bold")

fig.savefig("out.png", dpi=100, facecolor="white")
